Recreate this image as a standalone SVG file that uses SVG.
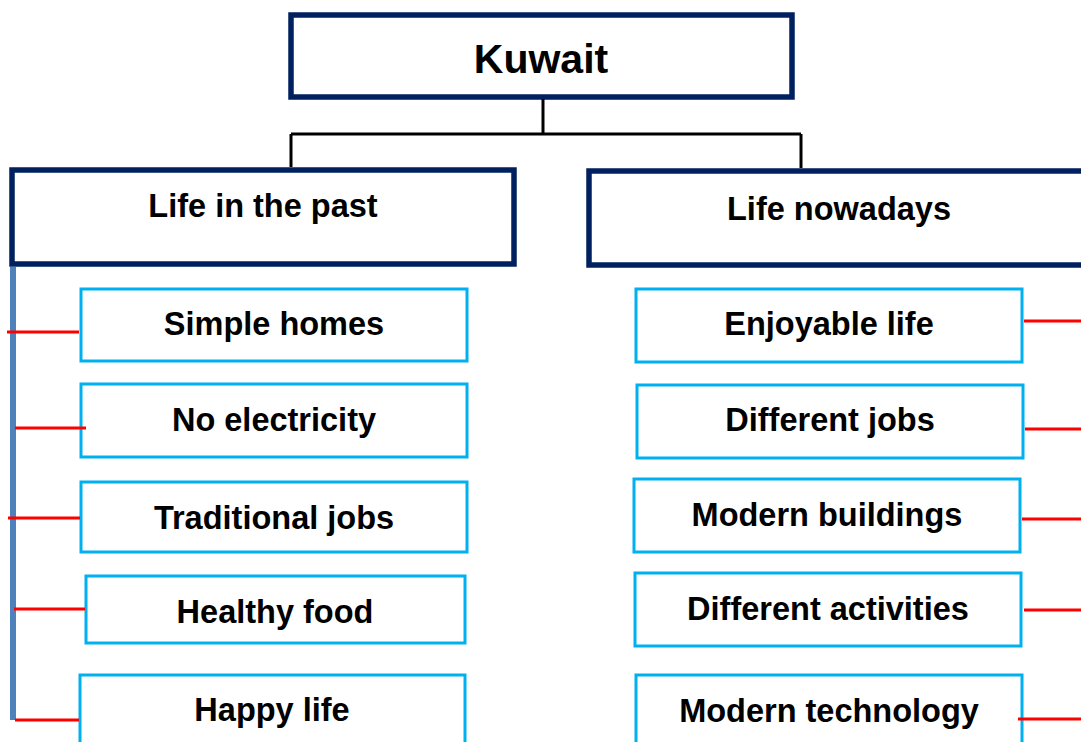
<svg xmlns="http://www.w3.org/2000/svg" width="1081" height="742" viewBox="0 0 1081 742">
<style>
.main{fill:#fff;stroke:#002060;stroke-width:5.5}
.leaf{fill:#fff;stroke:#00B0F0;stroke-width:3}
.tree{fill:none;stroke:#000;stroke-width:3}
.red{stroke:#FF0000;stroke-width:3;fill:none}
.spine{stroke:#4F81BD;stroke-width:6;fill:none}
text{font-family:"Liberation Sans",Arial,sans-serif;font-weight:bold;fill:#000;text-anchor:middle}
.t{font-size:32.5px}
.k{font-size:41px}
</style>
<rect width="1081" height="742" fill="#fff"/>
<g id="kuwait"><rect class="main" x="291" y="15" width="501" height="82"/><text class="k" x="541" y="73">Kuwait</text></g>
<g id="past"><rect class="main" x="12" y="170" width="502" height="94"/><text class="t" x="263" y="217">Life in the past</text></g>
<g id="nowadays"><rect class="main" x="589" y="171" width="600" height="94"/><text class="t" x="839" y="220">Life nowadays</text></g>
<g id="simple-homes"><rect class="leaf" x="81" y="289" width="386" height="72"/><text class="t" x="274" y="335">Simple homes</text></g>
<g id="no-electricity"><rect class="leaf" x="81" y="384" width="386" height="73"/><text class="t" x="274" y="431">No electricity</text></g>
<g id="traditional-jobs"><rect class="leaf" x="81" y="482" width="386" height="70"/><text class="t" x="274" y="529">Traditional jobs</text></g>
<g id="healthy-food"><rect class="leaf" x="86" y="576" width="379" height="67"/><text class="t" x="275" y="623">Healthy food</text></g>
<g id="happy-life"><rect class="leaf" x="80" y="675" width="385" height="80"/><text class="t" x="272" y="721">Happy life</text></g>
<g id="enjoyable-life"><rect class="leaf" x="636" y="289" width="386" height="73"/><text class="t" x="829" y="335">Enjoyable life</text></g>
<g id="different-jobs"><rect class="leaf" x="637" y="385" width="386" height="73"/><text class="t" x="830" y="431">Different jobs</text></g>
<g id="modern-buildings"><rect class="leaf" x="634" y="479" width="386" height="73"/><text class="t" x="827" y="526">Modern buildings</text></g>
<g id="different-activities"><rect class="leaf" x="635" y="573" width="386" height="73"/><text class="t" x="828" y="620">Different activities</text></g>
<g id="modern-technology"><rect class="leaf" x="636" y="675" width="386" height="80"/><text class="t" x="829" y="722">Modern technology</text></g>
<g id="connectors">
<path class="tree" d="M543,99 V134 M291,134 H801 M291,134 V167 M801,134 V168"/>
<path class="spine" d="M13,267 V720"/>
<path class="red" d="M7,332 H79 M15,428 H86 M8,518 H80 M14,609 H85 M15,720 H79"/>
<path class="red" d="M1024,321 H1081 M1025,429 H1081 M1022,519 H1081 M1024,610 H1081 M1018,719 H1081"/>
</g>
</svg>
